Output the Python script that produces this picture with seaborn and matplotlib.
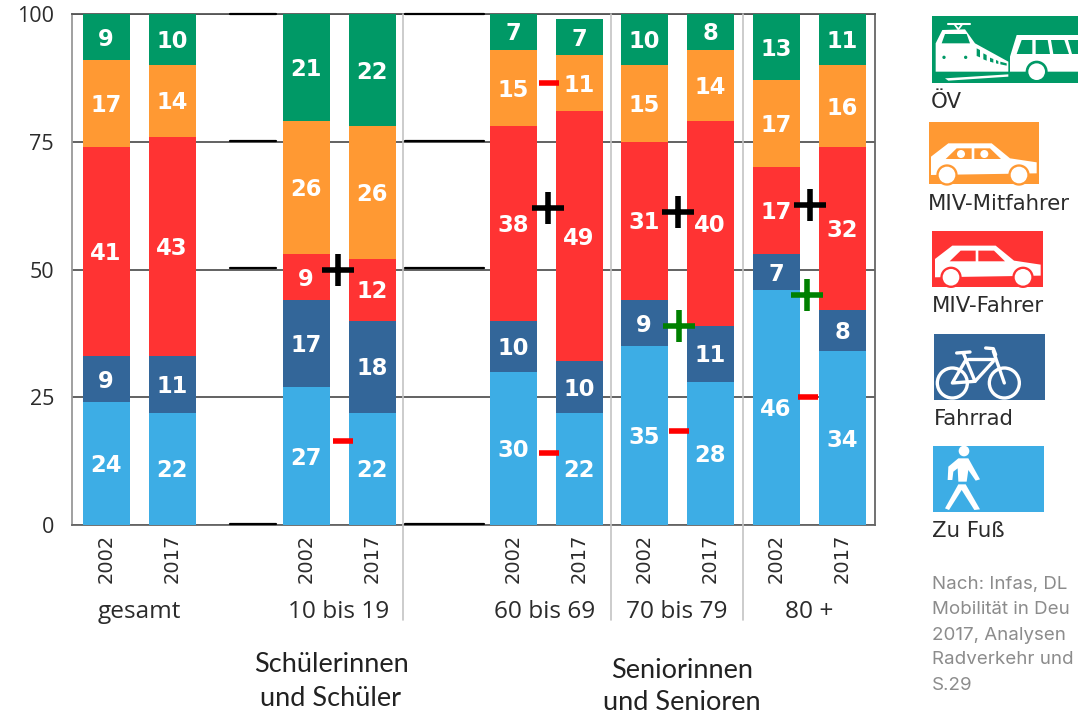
import matplotlib.pyplot as plt
import seaborn as sns
import numpy as np
from matplotlib.patches import Circle, Polygon, Rectangle

# percent shares per bar, bottom to top
years = ["2002", "2017"] * 5
groups = ["gesamt", "10 bis 19", "60 bis 69", "70 bis 79", "80 +"]
zu_fuss = [24, 22, 27, 22, 30, 22, 35, 28, 46, 34]
fahrrad = [9, 11, 17, 18, 10, 10, 9, 11, 7, 8]
miv_fahrer = [41, 43, 9, 12, 38, 49, 31, 40, 17, 32]
miv_mitfahrer = [17, 14, 26, 26, 15, 11, 15, 14, 17, 16]
oev = [9, 10, 21, 22, 7, 7, 10, 8, 13, 11]
y_ticks = [0, 25, 50, 75, 100]

# change markers between the two survey years
plus_black_y = [50, 62, 61.3, 62.6]
plus_green_y = [39, 45]
minus_red_y = [16.4, 86.5, 14, 18.4, 25]

legend_labels = ["ÖV", "MIV-Mitfahrer", "MIV-Fahrer", "Fahrrad", "Zu Fuß"]
# the reference is cropped at its right edge, this is what can be read of the source
source_lines = ["Nach: Infas, DL", "Mobilität in Deu", "2017, Analysen", "Radverkehr und", "S.29"]
note_left = ["Schülerinnen", "und Schüler"]
note_right = ["Seniorinnen", "und Senioren"]

GREEN, ORANGE, RED, BLUE, SKY = "#009966", "#FF9933", "#FF3333", "#336699", "#3DADE5"

# layout, all in reference pixels
W, H = 1078, 715
L, R, T, B = 72, 875, 14, 525
bar_x = np.array([106, 172, 306, 372, 513, 579, 644, 710, 776, 842])
plus_black_x = [338, 548, 678, 810]
plus_green_x = [679, 807]
minus_red_x = [343, 549, 549, 679, 808]
group_x = [139, 339, 545, 677, 809]

sns.set_style("white")
plt.rcParams["font.family"] = ["Open Sans", "DejaVu Sans"]

fig = plt.figure(figsize=(W / 100, H / 100), dpi=100)
ax = fig.add_axes([L / W, 1 - B / H, (R - L) / W, (B - T) / H])

bottom = np.zeros(len(bar_x))
for values, colour in [(zu_fuss, SKY), (fahrrad, BLUE), (miv_fahrer, RED),
                       (miv_mitfahrer, ORANGE), (oev, GREEN)]:
    values = np.array(values)
    sns.barplot(x=bar_x, y=values, bottom=bottom, color=colour, saturation=1, linewidth=0,
                width=47 / 65, native_scale=True, ax=ax, zorder=3)
    for x, b, v in zip(bar_x, bottom, values):
        mid = (b + min(b + v, 100)) / 2 - 0.4
        ax.text(x, mid, str(v), color="white", ha="center", va="center",
                fontsize=16.3, fontweight="bold", family="DejaVu Sans", zorder=5)
    bottom = bottom + values

ax.set_xlim(L, R)
ax.set_ylim(0, 100)
ax.set_xticks(bar_x, years, rotation=90, family="DejaVu Sans", fontsize=14, color="#2b2b2b")
ax.set_yticks(y_ticks, y_ticks, fontsize=15.5, color="#2b2b2b")
ax.tick_params(axis="x", length=0, pad=6)
ax.tick_params(axis="y", length=0, pad=13)
ax.yaxis.grid(True, color="#555555", lw=1.3)
ax.set_axisbelow(True)
ax.spines["left"].set_color("#999999")
ax.spines["right"].set_color("#666666")
ax.spines["top"].set_color("#555555")
ax.spines["bottom"].set_color("#666666")
for s in ax.spines.values():
    s.set_linewidth(1.3)

sns.scatterplot(x=plus_black_x, y=plus_black_y, marker="+", s=560, color="black",
                linewidth=4, ax=ax, zorder=6, clip_on=False)
sns.scatterplot(x=plus_green_x, y=plus_green_y, marker="+", s=560, color="green",
                linewidth=4, ax=ax, zorder=6, clip_on=False)
sns.scatterplot(x=minus_red_x, y=minus_red_y, marker="_", s=207, color="red",
                linewidth=4, ax=ax, zorder=6, clip_on=False)
ax.set_xlabel("")
ax.set_ylabel("")

# overlay in pixel coordinates for annotations and pictograms
ov = fig.add_axes([0, 0, 1, 1], zorder=10)
ov.set_xlim(0, W)
ov.set_ylim(H, 0)
ov.axis("off")

for x in [403, 611, 743]:
    ov.plot([x, x], [T, 620], color="#c4c4c4", lw=1.2)
for y in [13.5, 141, 268, 524]:
    ov.plot([230, 276], [y, y], color="black", lw=1.6)
    ov.plot([405, 484], [y, y], color="black", lw=1.6)

for x, label in zip(group_x, groups):
    ov.text(x, 612, label, ha="center", va="center", fontsize=17.6, color="#2b2b2b")

for y, line in zip([665, 698], note_left):
    ov.text(331, y, line, ha="center", va="center", fontsize=19.5, family="Lato", color="#222222")
for y, line in zip([670, 703], note_right):
    ov.text(682, y, line, ha="center", va="center", fontsize=19.5, family="Lato", color="#222222")

for y, line in zip([584, 609, 635, 660, 686], source_lines):
    ov.text(932, y, line, ha="left", va="center", fontsize=13.5, family="Inter", color="#8c8c8c")

legend_text_pos = [(931, 102), (928, 204), (932, 306), (934, 419), (932, 531)]
for (x, y), label in zip(legend_text_pos, legend_labels):
    ov.text(x, y, label, ha="left", va="center", fontsize=15.3, family="DejaVu Sans", color="#2b2b2b")


def rect(x0, y0, x1, y1, colour):
    ov.add_patch(Rectangle((x0, y0), x1 - x0, y1 - y0, color=colour, lw=0))


def poly(points, ox, oy, colour="white"):
    ov.add_patch(Polygon([(ox + px / 3, oy + py / 3) for px, py in points], color=colour, lw=0))


def disc(px, py, r, ox, oy, colour="white"):
    ov.add_patch(Circle((ox + px / 3, oy + py / 3), r / 3, color=colour, lw=0))


def stroke(points, ox, oy, lw=2.4):
    ov.plot([ox + p[0] / 3 for p in points], [oy + p[1] / 3 for p in points],
            color="white", lw=lw, solid_capstyle="round", solid_joinstyle="round")


def car(ox, oy, colour, heads=False):
    poly([(18, 125), (70, 85), (200, 85), (255, 130), (335, 142), (335, 175), (18, 180)], ox, oy)
    poly([(62, 132), (95, 100), (140, 100), (140, 132)], ox, oy, colour)
    poly([(148, 100), (195, 100), (228, 132), (148, 132)], ox, oy, colour)
    if heads:
        disc(108, 117, 12, ox, oy)
        disc(178, 117, 12, ox, oy)
    for wx in (66, 282):
        disc(wx, 180, 32, ox, oy, colour)
        disc(wx, 180, 25, ox, oy)


# OV: train and bus
rect(932, 16, W, 83, GREEN)
ox, oy = 925, 10
poly([(32, 185), (32, 100), (52, 60), (120, 58), (150, 100), (250, 155), (250, 185)], ox, oy)
poly([(50, 100), (60, 72), (125, 72), (135, 100)], ox, oy, GREEN)
for win in [[(155, 115), (165, 120), (165, 142), (155, 138)],
            [(175, 130), (185, 135), (185, 152), (175, 148)],
            [(195, 143), (205, 147), (205, 158), (195, 155)],
            [(213, 150), (220, 153), (220, 162), (213, 160)],
            [(226, 155), (245, 160), (245, 167), (226, 163)]]:
    poly(win, ox, oy, GREEN)
disc(57, 142, 5, ox, oy, GREEN)
disc(122, 142, 5, ox, oy, GREEN)
stroke([(68, 42), (135, 42)], ox, oy, 1.5)
stroke([(88, 42), (100, 58), (112, 42)], ox, oy, 1.3)
poly([(60, 205), (250, 193), (250, 200), (70, 212)], ox, oy)
poly([(255, 185), (255, 140), (275, 75), (459, 75), (459, 185)], ox, oy)
poly([(275, 132), (290, 90), (322, 90), (322, 132)], ox, oy, GREEN)
poly([(332, 90), (368, 90), (375, 132), (332, 132)], ox, oy, GREEN)
poly([(378, 90), (418, 90), (432, 132), (385, 132)], ox, oy, GREEN)
poly([(430, 90), (459, 90), (459, 132), (442, 132)], ox, oy, GREEN)
disc(335, 185, 33, ox, oy, GREEN)
disc(335, 185, 25, ox, oy)

# cars
rect(929, 122, 1039, 184, ORANGE)
car(925, 115, ORANGE, heads=True)
rect(932, 231, 1043, 287, RED)
car(929, 217.3, RED)

# bicycle
rect(934, 334, 1045, 400, BLUE)
ox, oy = 925, 328
for wx in (82, 238):
    ov.add_patch(Circle((ox + wx / 3, oy + 165 / 3), 15, fill=False, ec="white", lw=2.4))
stroke([(95, 75), (135, 72)], ox, oy)
stroke([(115, 75), (150, 160), (82, 165), (120, 100)], ox, oy)
stroke([(128, 92), (205, 92)], ox, oy)
stroke([(205, 100), (150, 160)], ox, oy)
stroke([(205, 70), (238, 165)], ox, oy)
stroke([(182, 60), (205, 62), (212, 80)], ox, oy)

# pedestrian
rect(933, 446, 1044, 512, SKY)
ox, oy = 925, 440
disc(117, 33, 16, ox, oy)
poly([(70, 80), (100, 55), (130, 55), (165, 118), (152, 122), (130, 90), (125, 125), (100, 125),
      (98, 85), (85, 95), (82, 120), (68, 120)], ox, oy)
poly([(100, 133), (122, 133), (165, 208), (148, 210), (110, 150), (72, 210), (60, 205)], ox, oy)

plt.savefig("out.png", dpi=100)
